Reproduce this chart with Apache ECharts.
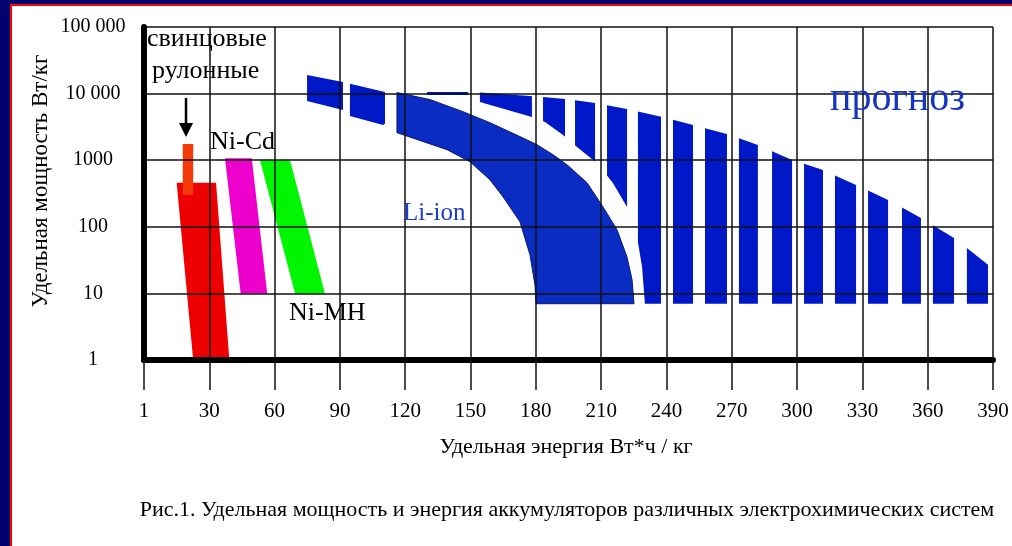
<!DOCTYPE html>
<html>
<head>
<meta charset="utf-8">
<script src="https://cdn.jsdelivr.net/npm/echarts@6/dist/echarts.min.js"></script>
<style>
  html,body{margin:0;padding:0;background:#00006e;width:1012px;height:546px;overflow:hidden;}
  #frame{position:absolute;left:10px;top:4px;width:1002px;height:542px;background:#fff;border-left:2px solid #ff0000;border-top:2px solid #ff0000;box-sizing:border-box;}
  #chart{position:absolute;left:0;top:0;width:1012px;height:546px;}
</style>
</head>
<body>
<div id="frame"></div>
<div id="chart"></div>
<script>
// ---------- data (energy Wh/kg, power W/kg) ----------
const xTickLabels = ['1','30','60','90','120','150','180','210','240','270','300','330','360','390'];
const yTickLabels = {1:'1',10:'10',100:'100',1000:'1000',10000:'10 000',100000:'100 000'};

const leadAcid   = [[15.0,459],[33.1,459],[39.2,1],[22.6,1]];
const leadRolled = [[17.8,1750],[22.6,1750],[22.6,300],[17.8,300]];
const niCd       = [[37.2,1070],[49.5,1070],[56.6,10],[44.4,10]];
const niMH       = [[53.3,1000],[67.1,1000],[83.1,10],[69.4,10]];

const liIonOuter = [[116.2,10350],[131.4,8130],[146.5,5360],[158.9,3660],[172.7,2260],[180.5,1710],
                    [187.9,1210],[194.3,855],[203.5,459],[210.8,200],[217.3,90],[221.9,35],[224.2,16],[225.1,7]];
const liIonInner = [[116.2,2590],[139.2,1440],[149.7,950],[158.9,509],[164.9,283],[172.7,119],
                    [177.3,38],[179.6,13.4],[180.1,7]];

const forecastOuter = [[74.9,19000],[91.4,14900],[110.7,10600],[149.7,10600],[177.3,9200],[193.4,8300],
                       [207.2,7230],[221.9,5870],[237.9,4450],[252.2,3380],[267.8,2470],[282.0,1690],
                       [297.7,1010],[311.9,713],[327.1,424],[341.8,253],[356.9,136],[372.1,68],[387.7,27]];
const forecastInner = [[74.9,7740],[91.4,5670],[94.6,4610],[109.8,3380],[130.0,9530],[148.8,9530],
                       [154.3,7480],[178.2,4450],[184.2,3750],[192.5,2390],[198.9,1580],[208.1,908],
                       [215.4,455],[221.9,198],[226.5,70],[228.8,25],[230.1,7]];
const forecastBase = 7;
const forecastStripes = [[74.9,91.4],[94.6,110.7],[130.0,148.8],[154.3,178.2],[183.3,193.4],[198.0,207.2],
                         [212.7,221.9],[226.9,237.5],[243.0,252.2],[257.7,267.8],[273.3,282.0],[288.5,297.7],
                         [303.2,311.9],[317.4,327.1],[332.6,341.8],[348.2,356.9],[362.4,372.1],[378.0,387.7]];
const arrowPts = [[19.3,8600],[19.3,2230]];

// ---------- helpers ----------
const FONT = "'Liberation Serif','Times New Roman',serif";
function yAt(pts, x, after) {
  if (x <= pts[0][0]) return pts[0][1];
  for (let i = 1; i < pts.length; i++) {
    if (x <= pts[i][0]) {
      const a = pts[i-1], b = pts[i];
      const t = (x - a[0]) / (b[0] - a[0] || 1);
      return a[1] + t * (b[1] - a[1]);
    }
  }
  return after !== undefined ? after : pts[pts.length-1][1];
}
function polySeries(name, pts, fill, z, stroke) {
  return {
    type: 'custom', name: name, data: pts, z: z, silent: true,
    renderItem: function (params, api) {
      if (params.dataIndex !== 0) return null;
      return { type: 'polygon', shape: { points: pts.map(p => api.coord(p)) },
               style: stroke ? { fill: fill, stroke: stroke, lineWidth: 1 } : { fill: fill } };
    }
  };
}

const chart = echarts.init(document.getElementById('chart'), null, { renderer: 'canvas' });
const option = {
  backgroundColor: 'transparent',
  animation: false,
  grid: { left: 144, right: 19, top: 27, bottom: 186, containLabel: false },
  xAxis: {
    type: 'value', min: 0, max: 390, interval: 30, z: 3,
    axisLine: { show: true, onZero: false, lineStyle: { color: '#000', width: 6, cap: 'round' } },
    axisTick: { show: true, length: 30, lineStyle: { color: '#111', width: 1.5 } },
    splitLine: { show: true, lineStyle: { color: '#111', width: 1.5 } },
    axisLabel: { margin: 41, fontFamily: FONT, fontSize: 21, color: '#000',
                 formatter: v => xTickLabels[Math.round(v / 30)] }
  },
  yAxis: {
    type: 'log', logBase: 10, min: 1, max: 100000, z: 3,
    axisLine: { show: true, lineStyle: { color: '#000', width: 6, cap: 'round' } },
    axisTick: { show: false },
    splitLine: { show: true, lineStyle: { color: '#111', width: 1.5 } },
    axisLabel: { margin: 51, align: 'center', fontFamily: FONT, fontSize: 20, color: '#000',
                 formatter: v => yTickLabels[Math.round(v)] || String(v) }
  },
  series: [
    {
      type: 'custom', name: 'прогноз', data: forecastOuter, z: 1, silent: true,
      renderItem: function (params, api) {
        if (params.dataIndex !== 0) return null;
        const A = forecastOuter.map(p => api.coord(p));
        const B = forecastInner.map(p => api.coord(p));
        const baseY = api.coord([0, forecastBase])[1];
        const children = forecastStripes.map(function (s) {
          const x0 = api.coord([s[0], forecastBase])[0];
          const x1 = api.coord([s[1], forecastBase])[0];
          const pts = [[x0, yAt(A, x0)]];
          A.forEach(p => { if (p[0] > x0 && p[0] < x1) pts.push(p); });
          pts.push([x1, yAt(A, x1)]);
          pts.push([x1, yAt(B, x1, baseY)]);
          B.slice().reverse().forEach(p => { if (p[0] > x0 && p[0] < x1) pts.push(p); });
          pts.push([x0, yAt(B, x0, baseY)]);
          return { type: 'polygon', shape: { points: pts }, style: { fill: '#0019c8' } };
        });
        return { type: 'group', children: children };
      }
    },
    polySeries('Li-ion', liIonOuter.concat(liIonInner.slice().reverse()), '#0a2cc2', 2, '#0a1a70'),
    polySeries('свинцовые', leadAcid, '#ee0000', 2),
    polySeries('свинцовые рулонные', leadRolled, '#f23a06', 2),
    polySeries('Ni-Cd', niCd, '#ee00cc', 2),
    polySeries('Ni-MH', niMH, '#00f500', 2),
    {
      type: 'custom', name: 'arrow', data: arrowPts, z: 2, silent: true,
      renderItem: function (params, api) {
        if (params.dataIndex !== 0) return null;
        const a = api.coord(arrowPts[0]), b = api.coord(arrowPts[1]);
        const head = 14, hw = 7;
        return { type: 'group', children: [
          { type: 'line', shape: { x1: a[0], y1: a[1], x2: b[0], y2: b[1] - head + 2 }, style: { stroke: '#000', lineWidth: 2.5 } },
          { type: 'polygon', shape: { points: [[b[0] - hw, b[1] - head], [b[0] + hw, b[1] - head], [b[0], b[1]]] }, style: { fill: '#000' } }
        ] };
      }
    }
  ],
  graphic: [
    { type: 'text', left: 147, top: 26, z: 20, style: { text: 'свинцовые', font: '26px ' + FONT, fill: '#000' } },
    { type: 'text', left: 152, top: 58, z: 20, style: { text: 'рулонные', font: '26px ' + FONT, fill: '#000' } },
    { type: 'text', left: 210, top: 129, z: 20, style: { text: 'Ni-Cd', font: '26px ' + FONT, fill: '#000' } },
    { type: 'text', left: 289, top: 300, z: 20, style: { text: 'Ni-MH', font: '26px ' + FONT, fill: '#000' } },
    { type: 'text', left: 403, top: 201, z: 20, style: { text: 'Li-ion', font: '25px ' + FONT, fill: '#1a3cc8' } },
    { type: 'text', left: 830, top: 79, z: 20, style: { text: 'прогноз', font: '40px ' + FONT, fill: '#1535c0' } },
    { type: 'text', x: 41, y: 181, rotation: Math.PI / 2, z: 20,
      style: { text: 'Удельная мощность Вт/кг', font: '23px ' + FONT, fill: '#000', align: 'center', verticalAlign: 'middle' } },
    { type: 'text', x: 566, y: 447, z: 20,
      style: { text: 'Удельная энергия Вт*ч / кг', font: '22px ' + FONT, fill: '#000', align: 'center', verticalAlign: 'middle' } },
    { type: 'text', x: 567, y: 510, z: 20,
      style: { text: 'Рис.1. Удельная мощность и энергия аккумуляторов различных электрохимических систем', font: '22px ' + FONT, fill: '#000', align: 'center', verticalAlign: 'middle' } }
  ]
};
chart.setOption(option);
</script>
</body>
</html>
